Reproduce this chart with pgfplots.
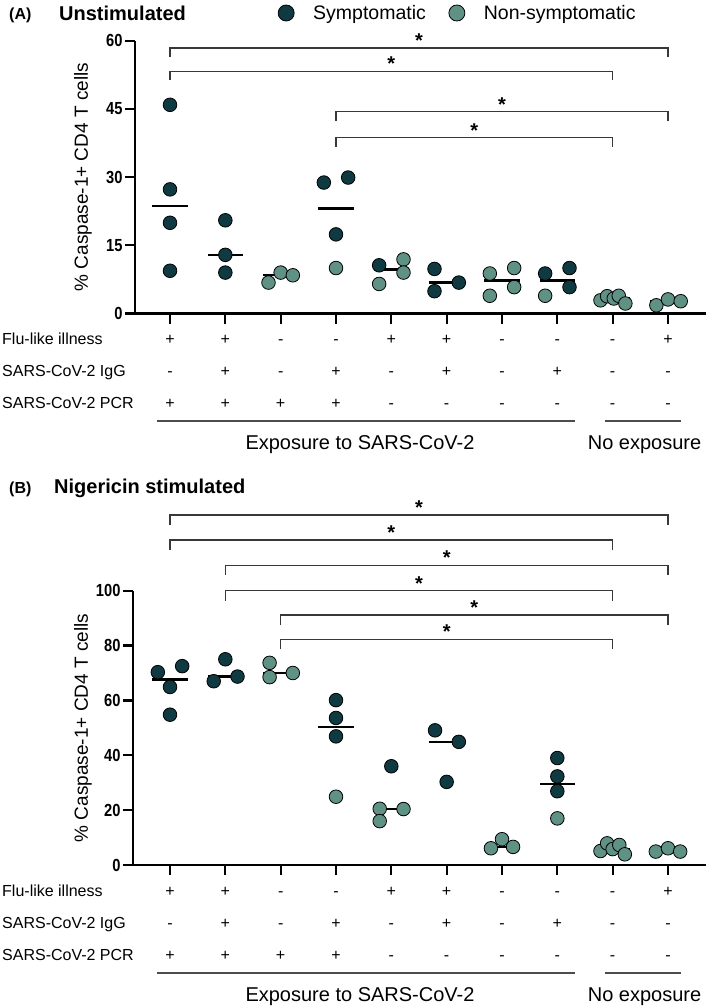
\documentclass[border=0pt]{standalone}
\usepackage{pgfplots}
\usepackage{pgfplotstable}
\pgfplotsset{compat=1.18}
\usepackage{fontspec}
\setmainfont{Liberation Sans}
\newfontfamily\narrowfont{Liberation Sans}[FakeStretch=0.84]
\definecolor{symp}{RGB}{16,58,66}
\definecolor{nons}{RGB}{95,145,133}
\newcommand{\fs}[1]{\fontsize{#1}{#1}\selectfont}

% ---------- Panel A data ----------
\pgfplotstableread{
x y
1 45.9
1 27.3
1 19.95
1 9.4
2 20.5
2 12.9
2 9.0
3.78 28.8
4.22 29.9
4 17.4
4.78 10.6
5.78 9.8
5.78 4.9
6.22 6.8
7.78 8.8
8.22 10.0
8.22 5.8
}\darkA
\pgfplotstableread{
x y
2.78 6.8
3 9.0
3.22 8.4
4 10.0
4.78 6.5
5.22 11.9
5.22 9.0
6.78 8.8
6.78 3.9
7.22 10.0
7.22 5.8
7.78 3.9
8.78 2.9
8.90 3.8
9.02 3.3
9.11 3.9
9.23 2.2
9.79 1.8
10 3.1
10.23 2.7
}\lightA
\pgfplotstableread{
x y
1 23.6
2 12.9
3 8.5
4 23.1
5 9.7
6 6.8
7 7.3
8 7.3
9 3.3
10 2.7
}\medA
% ---------- Panel B data ----------
\pgfplotstableread{
x y
0.78 70.3
1.22 72.5
1 64.9
1 54.8
2 75.0
1.79 67.0
2.22 68.7
4 60.1
4 53.6
4 46.9
5 36.0
5.79 49.1
6.22 44.9
6 30.3
8 39.0
8 32.3
8 26.9
}\darkB
\pgfplotstableread{
x y
2.8 73.7
2.8 68.5
3.22 70.0
4 24.9
4.79 20.5
4.79 16.0
5.22 20.4
6.8 6.1
7 9.4
7.2 6.6
8 17.0
8.78 5.1
8.90 7.9
9 5.8
9.12 7.3
9.22 3.9
9.78 4.9
10 6.1
10.22 4.9
}\lightB
\pgfplotstableread{
x y
1 67.6
2 68.7
3 70.0
4 50.3
5 20.5
6 44.9
7 6.6
8 29.6
9 5.8
10 4.9
}\medB

\newcommand{\brk}[5]{% x1 x2 y y-leg xmid
  \draw[black!78, line width=1.3pt] (axis cs:#1,#4) -- (axis cs:#1,#3) -- (axis cs:#2,#3) -- (axis cs:#2,#4);
  \node[anchor=base, inner sep=0pt, yshift=0.5pt, font=\bfseries\fs{20}] at (axis cs:#5,#3) {*};
}

\begin{document}
\begin{tikzpicture}[x=1pt,y=1pt]
\useasboundingbox (0,0) rectangle (709,-1008);

\pgfplotsset{
  panel/.style={
    scale only axis, clip=false, anchor=south west,
    axis x line*=bottom, axis y line*=left,
    axis line style={line width=2.4pt},
    tick align=outside, major tick length=10pt,
    every tick/.style={black, line width=2.2pt},
    xtick={1,...,10}, xticklabels={},
    y tick label style={font=\narrowfont\bfseries\fs{17.5}, xshift=1pt},
    /pgf/number format/assume math mode=true,
    ylabel={\% Caspase-1+ CD4 T cells},
  },
  mdn/.style={only marks, mark=-, mark size=17.7pt, mark options={line width=2.4pt, black}, forget plot},
  dk/.style={only marks, mark=*, mark size=6.8pt, mark options={fill=symp, draw=black, line width=0.8pt}},
  lt/.style={only marks, mark=*, mark size=6.8pt, mark options={fill=nons, draw=black, line width=0.8pt}},
}

% ================= Panel A =================
\begin{axis}[panel,
  at={(135pt,-313.5pt)}, width=571pt, height=272.8pt,
  xmin=0.3674, xmax=10.687, ymin=0, ymax=60,
  ytick={0,15,30,45,60},
  every axis y label/.style={at={(rel axis cs:0,0.5)}, rotate=90, anchor=center, yshift=52pt, font=\fs{19}},
  legend columns=2,
  legend style={at={(rel axis cs:0.2504,1.1015)}, anchor=west, draw=none, fill=none,
     font=\fs{19.5}, inner sep=0pt,
     /tikz/every odd column/.append style={column sep=17pt},
     /tikz/every even column/.append style={column sep=21pt}},
  legend image code/.code={\draw[#1, mark size=8pt] plot coordinates {(0pt,0pt)};},
]
\addplot[mdn] table {\medA};
\addplot[dk] table {\darkA};
\addlegendentry{Symptomatic}
\addplot[lt] table {\lightA};
\addlegendentry{Non-symptomatic}
\brk{1}{10}{58.4}{56.4}{5.5}
\brk{1}{9}{53.3}{51.3}{5}
\brk{4}{10}{44.4}{42.4}{7}
\brk{4}{9}{38.7}{36.7}{6.5}
\end{axis}

% ================= Panel B =================
\begin{axis}[panel,
  at={(133pt,-865pt)}, width=573pt, height=274.3pt,
  xmin=0.3313, xmax=10.687, ymin=0, ymax=100,
  ytick={0,20,40,60,80,100},
  every axis y label/.style={at={(rel axis cs:0,0.5)}, rotate=90, anchor=center, yshift=50pt, font=\fs{19}},
]
\addplot[mdn] table {\medB};
\addplot[dk] table {\darkB};
\addplot[lt] table {\lightB};
\brk{1}{10}{127.6}{124.0}{5.5}
\brk{1}{9}{118.5}{114.9}{5}
\brk{2}{10}{109.3}{105.7}{6}
\brk{2}{9}{100.0}{96.4}{5.5}
\brk{3}{10}{91.1}{87.5}{6.5}
\brk{3}{9}{82.3}{78.7}{6}
\end{axis}

% ================= titles =================
\node[anchor=base west, inner sep=0pt, font=\bfseries\fs{16}] at (9,-20) {(A)};
\node[anchor=base west, inner sep=0pt, font=\bfseries\fs{20}] at (59,-20.5) {Unstimulated};
\node[anchor=base west, inner sep=0pt, font=\bfseries\fs{16}] at (9,-493) {(B)};
\node[anchor=base west, inner sep=0pt, font=\bfseries\fs{20}] at (54,-493.5) {Nigericin stimulated};

% ================= condition tables =================
\foreach \yo in {0,552}{
  \begin{scope}[yshift=-\yo pt, font=\fs{16}]
    \node[anchor=base west, inner sep=0pt] at (2,-344.7) {Flu-like illness};
    \node[anchor=base west, inner sep=0pt] at (2,-376.7) {SARS-CoV-2 IgG};
    \node[anchor=base west, inner sep=0pt] at (2,-408.7) {SARS-CoV-2 PCR};
    \foreach \k/\a/\b/\c in {1/+/-/+,2/+/+/+,3/-/-/+,4/-/+/+,5/+/-/-,6/+/+/-,7/-/-/-,8/-/+/-,9/-/-/-,10/+/-/-}{
      \pgfmathsetmacro{\xx}{170+55.33*(\k-1)}
      \node[anchor=base, inner sep=0pt] at (\xx,-344.7) {\a};
      \node[anchor=base, inner sep=0pt] at (\xx,-376.7) {\b};
      \node[anchor=base, inner sep=0pt] at (\xx,-408.7) {\c};
    }
    \draw[black!70, line width=1.3pt] (157,-421) -- (575,-421);
    \draw[black!70, line width=1.3pt] (605,-421) -- (681,-421);
    \node[anchor=base, inner sep=0pt, font=\fs{20}] at (360,-449.2) {Exposure to SARS-CoV-2};
    \node[anchor=base, inner sep=0pt, font=\fs{20}] at (644.5,-449.2) {No exposure};
  \end{scope}
}
\end{tikzpicture}
\end{document}
